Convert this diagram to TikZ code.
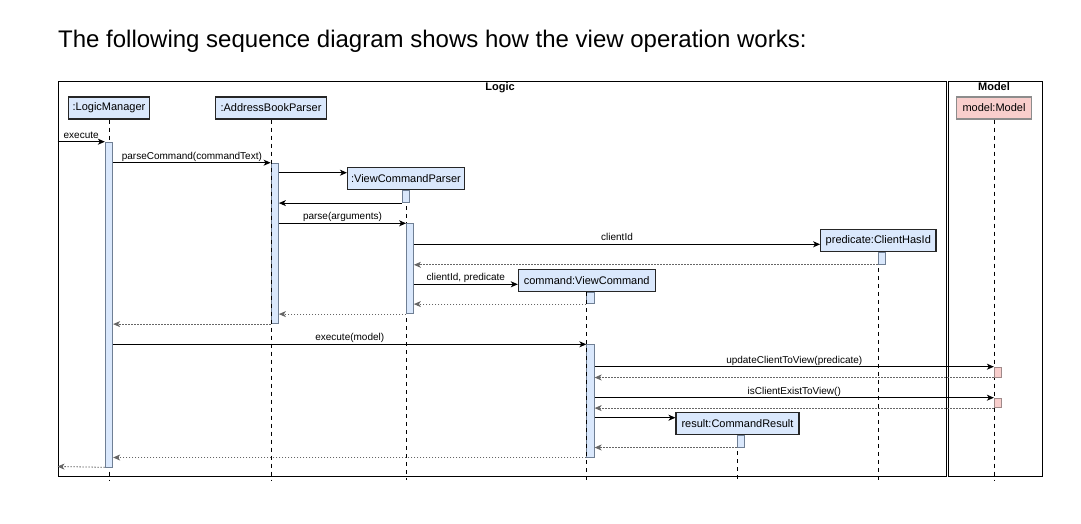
\documentclass[tikz,border=0pt]{standalone}
\usepackage{fontspec}
\setmainfont{Liberation Sans}
\usetikzlibrary{arrows.meta}
\definecolor{bluefill}{HTML}{DAE8FC}
\definecolor{pinkfill}{HTML}{F8CECC}
\definecolor{actborder}{HTML}{6F7F94}
\definecolor{pinkborder}{HTML}{A08A8A}
\definecolor{retgray}{HTML}{666666}
\begin{document}
\begin{tikzpicture}[x=1pt,y=-1pt,
  part/.style={draw=black!85, line width=1.1pt, fill=bluefill, minimum height=22, inner sep=0pt, font=\fontsize{11}{13}\selectfont},
  modelpart/.style={part, draw=black!45, fill=pinkfill},
  act/.style={draw=actborder, line width=0.8pt, fill=bluefill, minimum width=7.5, inner sep=0pt, anchor=north},
  modelact/.style={act, draw=pinkborder, fill=pinkfill},
  life/.style={draw=black, line width=0.8pt, dash pattern=on 4pt off 4pt},
  frm/.style={draw=black, line width=1.2pt},
  tip/.style={-{Stealth[length=7pt,width=6pt,inset=2pt]}},
  msg/.style={tip, draw=black, line width=0.9pt},
  ret/.style={tip, draw=retgray, line width=0.8pt, dash pattern=on 1.5pt off 1.5pt},
  lbl/.style={anchor=base, yshift=3.5pt, inner sep=0pt, font=\fontsize{10}{12}\selectfont, text=black},
  ftitle/.style={font=\bfseries\fontsize{11}{13}\selectfont, anchor=north, inner sep=0pt}
]
\useasboundingbox (0,0) rectangle (1081,523);
\fill[white] (0,0) rectangle (1081,523);

% title
\node[anchor=base west, inner sep=0pt, font=\fontsize{24}{28}\selectfont] (title) at (58,47.7) {The following sequence diagram shows how the view operation works:};

% frames
\node[frm, rectangle, minimum width=888, minimum height=394.5, inner sep=0pt, anchor=north west] (logicf) at (57.5,81) {};
\node[frm, rectangle, minimum width=94, minimum height=394.5, inner sep=0pt, anchor=north west] (modelf) at (947.5,81) {};
\node[ftitle] (logict) at (500,82.5) {Logic};
\node[ftitle] (modelt) at (994,82.5) {Model};

% participants
\node[part, minimum width=81] (lm) at (109,108) {:LogicManager};
\node[part, minimum width=111] (abp) at (271,108) {:AddressBookParser};
\node[modelpart, minimum width=75] (model) at (994,108) {model:Model};
\node[part, minimum width=117] (vcp) at (406,178.9) {:ViewCommandParser};
\node[part, minimum width=115.3] (pred) at (878.3,240.4) {predicate:ClientHasId};
\node[part, minimum width=136.7] (vc) at (586.7,280.5) {command:ViewCommand};
\node[part, minimum width=123] (res) at (737.5,423.7) {result:CommandResult};

% lifelines (under activations)
\draw[life] (lm.south) -- (lm.south |- 0,480);
\draw[life] (model.south) -- (model.south |- 0,480);
\draw[life] (vcp.south) -- (vcp.south |- 0,480);
\draw[life] (pred.south) -- (pred.south |- 0,480);
\draw[life] (res.south) -- (res.south |- 0,480);

% activations
\node[act, minimum height=324.8] (lmA) at (109,141.7) {};
\node[act, minimum height=160.6] (abpA) at (274.75,162.7) {};
\node[act, minimum height=12.3, minimum width=7] (vcpA1) at (405.8,190) {};
\node[act, minimum height=90, minimum width=7] (vcpA2) at (410,223.3) {};
\node[act, minimum height=12.3] (predA) at (882,251.7) {};
\node[act, minimum height=11.6] (vcA1) at (590.5,291.7) {};
\node[act, minimum height=112.4] (vcA2) at (590.5,344.3) {};
\node[modelact, minimum height=10] (mA1) at (998,366.7) {};
\node[modelact, minimum height=9.6] (mA2) at (998,397.7) {};
\node[act, minimum height=11.7, minimum width=7] (resA) at (740.8,435) {};

% lifelines drawn over their activation edges
\draw[life] (abp.south) -- (abp.south |- 0,480);
\draw[life] (vc.south) -- (vc.south |- 0,480);

% messages
\coordinate (inStart) at (57.5,141.7);
\coordinate (outEnd) at (57.5,466.5);
\draw[msg] (inStart) -- (lmA.north west) node[lbl, midway] {execute};
\draw[msg] (lmA.east |- abpA.north) -- (abpA.north west) node[lbl, midway] {parseCommand(commandText)};
\draw[msg] (abpA.east |- 0,172.7) -- (vcp.west |- 0,172.7);
\draw[msg] (vcpA1.south west) -- (abpA.east |- vcpA1.south);
\draw[msg] (abpA.east |- vcpA2.north) -- (vcpA2.north west) node[lbl, midway] {parse(arguments)};
\draw[msg] (vcpA2.east |- 0,244.3) -- (pred.west |- 0,244.3) node[lbl, midway] {clientId};
\draw[ret] (predA.south west) -- (vcpA2.east |- predA.south);
\draw[msg] (vcpA2.east |- 0,284.3) -- (vc.west |- 0,284.3) node[lbl, midway] {clientId, predicate};
\draw[ret] (vcA1.south west) -- (vcpA2.east |- vcA1.south);
\draw[ret] (vcpA2.south west) -- (abpA.east |- vcpA2.south);
\draw[ret] (abpA.south west) -- (lmA.east |- abpA.south);
\draw[msg] (lmA.east |- vcA2.north) -- (vcA2.north west) node[lbl, midway] {execute(model)};
\draw[msg] (vcA2.east |- mA1.north) -- (mA1.north west) node[lbl, midway] {updateClientToView(predicate)};
\draw[ret] (mA1.south west) -- (vcA2.east |- mA1.south);
\draw[msg] (vcA2.east |- mA2.north) -- (mA2.north west) node[lbl, midway] {isClientExistToView()};
\draw[ret] (mA2.south west) -- (vcA2.east |- mA2.south);
\draw[msg] (vcA2.east |- 0,417.7) -- (res.west |- 0,417.7);
\draw[ret] (resA.south west) -- (vcA2.east |- resA.south);
\draw[ret] (vcA2.south west) -- (lmA.east |- vcA2.south);
\draw[ret] (lmA.south west) -- (outEnd);
\end{tikzpicture}
\end{document}
